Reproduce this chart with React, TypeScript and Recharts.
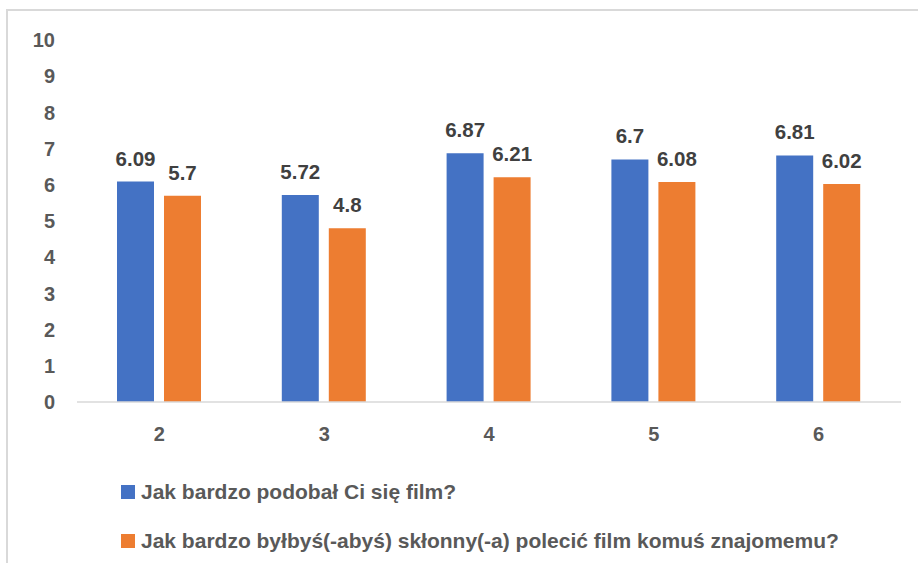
import React from "react";
import { BarChart, Bar, XAxis, YAxis, LabelList } from "recharts";

// Ocena filmu w kolejnych grupach: dwa pytania ankiety, skala 0–10.
const categories = ["2", "3", "4", "5", "6"];
const podobal = [6.09, 5.72, 6.87, 6.7, 6.81];
const polecic = [5.7, 4.8, 6.21, 6.08, 6.02];
const yTicks = [0, 1, 2, 3, 4, 5, 6, 7, 8, 9, 10];
const seriesNames = [
  "Jak bardzo podobał Ci się film?",
  "Jak bardzo byłbyś(-abyś) skłonny(-a) polecić film komuś znajomemu?",
];
const seriesColors = ["#4472C4", "#ED7D31"];

const data = categories.map((c, i) => ({ cat: c, a: podobal[i], b: polecic[i] }));

const FONT = "'Liberation Sans', Arial, sans-serif";
const axisTick = { fill: "#595959", fontSize: 20, fontWeight: 700, fontFamily: FONT };
const labelStyle = { fill: "#404040", fontSize: 20.5, fontWeight: 700, fontFamily: FONT };

export default function App() {
  return (
    <div style={{ position: "absolute", left: 0, top: 0, width: 918, height: 563, background: "#fff", overflow: "hidden" }}>
      {/* ramka wykresu: widoczna tylko górna i lewa krawędź */}
      <div
        style={{
          position: "absolute",
          left: 6,
          top: 9,
          width: 918,
          height: 563,
          borderTop: "2px solid #d9d9d9",
          borderLeft: "2px solid #d9d9d9",
        }}
      />
      <div style={{ position: "absolute", left: 0, top: 0 }}>
        <BarChart
          width={918}
          height={452}
          data={data}
          margin={{ top: 40, right: 17, left: 0, bottom: 0 }}
          barGap={10}
          barSize={37}
        >
          <YAxis
            domain={[0, 10]}
            ticks={yTicks}
            width={77}
            axisLine={false}
            tickLine={false}
            tickSize={0}
            tickMargin={22}
            tick={axisTick}
            interval={0}
          />
          <XAxis
            dataKey="cat"
            height={50}
            axisLine={{ stroke: "#d9d9d9", strokeWidth: 1.5 }}
            tickLine={false}
            tickSize={0}
            tickMargin={25}
            tick={axisTick}
          />
          <Bar dataKey="a" fill={seriesColors[0]} isAnimationActive={false}>
            <LabelList dataKey="a" position="top" offset={16} style={labelStyle} />
          </Bar>
          <Bar dataKey="b" fill={seriesColors[1]} isAnimationActive={false}>
            <LabelList dataKey="b" position="top" offset={16} style={labelStyle} />
          </Bar>
        </BarChart>
      </div>
      {seriesNames.map((name, i) => (
        <div
          key={name}
          style={{
            position: "absolute",
            left: 121,
            top: 479 + i * 49,
            height: 26,
            display: "flex",
            alignItems: "center",
            fontFamily: FONT,
            fontWeight: 700,
            fontSize: 21,
            color: "#595959",
            whiteSpace: "nowrap",
          }}
        >
          <span style={{ width: 14, height: 14, background: seriesColors[i], marginRight: 6, display: "inline-block" }} />
          {name}
        </div>
      ))}
    </div>
  );
}
